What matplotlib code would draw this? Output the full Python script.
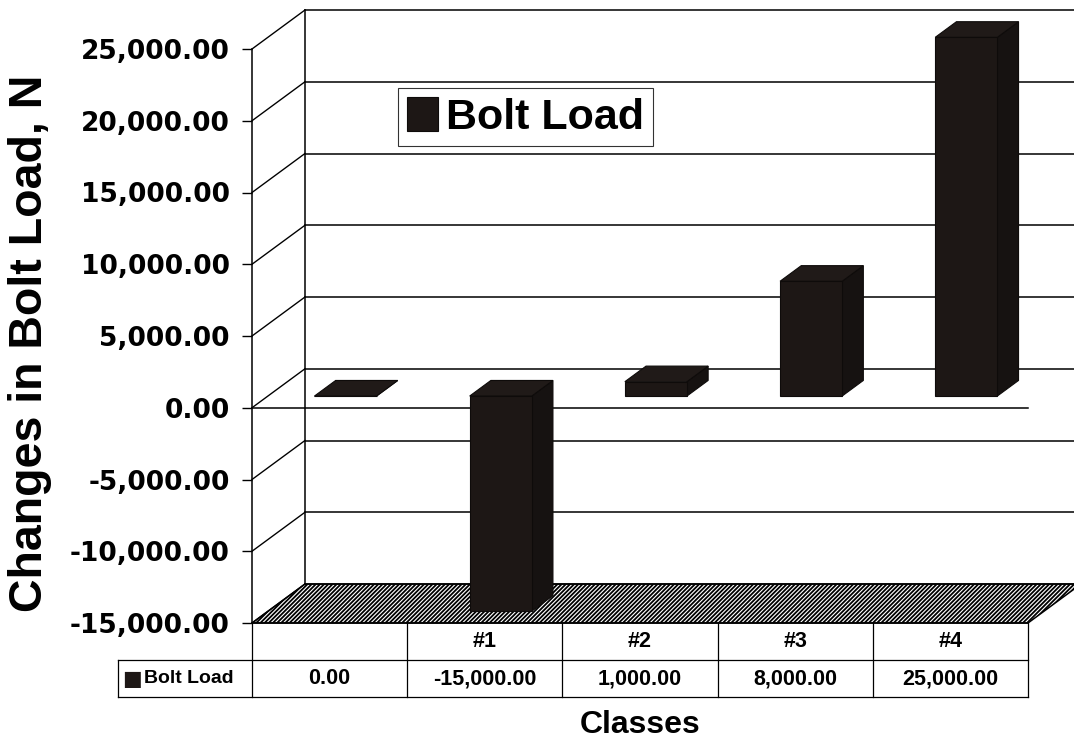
import matplotlib
matplotlib.use("Agg")
import matplotlib.pyplot as plt
import matplotlib.transforms as mtransforms
from matplotlib.patches import Polygon
from matplotlib.lines import Line2D

# ---------------- data ----------------
categories = ["", "#1", "#2", "#3", "#4"]
bolt_load = [0.0, -15000.0, 1000.0, 8000.0, 25000.0]
series_name = "Bolt Load"
y_ticks = [-15000, -10000, -5000, 0, 5000, 10000, 15000, 20000, 25000]
y_label = "Changes in Bolt Load, N"
x_label = "Classes"

# ---------------- styling ----------------
plt.rcParams["hatch.linewidth"] = 1.3
W, H = 1074, 744
fig = plt.figure(figsize=(W / 100, H / 100), dpi=100)
fig.patch.set_facecolor("white")

# front plane of the 3-D box
ax_left, ax_right, ax_top, ax_bot = 252, 1028, 49, 623
ax = fig.add_axes([ax_left / W, 1 - ax_bot / H, (ax_right - ax_left) / W, (ax_bot - ax_top) / H])
ax.set_xlim(0, len(categories))
ax.set_ylim(y_ticks[0], y_ticks[-1])
ax.patch.set_alpha(0)

# depth vector (pixels) converted to data units
depth_px = (53, 39)
ppx = (ax_right - ax_left) / len(categories)           # px per category
ppy = (ax_bot - ax_top) / (y_ticks[-1] - y_ticks[0])   # px per value unit
DX = depth_px[0] / ppx
DY = depth_px[1] / ppy

def P(x, y, f):
    """point at category-x, value-y, depth fraction f"""
    return (x + DX * f, y + DY * f)

LW = 1.1
ymin, ymax = y_ticks[0], y_ticks[-1]
ncat = len(categories)

# floor (hatched)
floor = Polygon([P(0, ymin, 0), P(ncat, ymin, 0), P(ncat, ymin, 1), P(0, ymin, 1)],
                closed=True, facecolor="white", edgecolor="black", hatch="////////",
                linewidth=LW, clip_on=False, zorder=1)
ax.add_patch(floor)

# back wall gridlines and side wall lines
for v in y_ticks:
    ax.add_line(Line2D(*zip(P(0, v, 1), P(ncat, v, 1)), color="black", lw=LW, clip_on=False, zorder=1))
    ax.add_line(Line2D(*zip(P(0, v, 0), P(0, v, 1)), color="black", lw=LW * 0.9, clip_on=False, zorder=1))
# back wall left edge
ax.add_line(Line2D(*zip(P(0, ymin, 1), P(0, ymax, 1)), color="black", lw=LW, clip_on=False, zorder=1))
# front zero line
ax.add_line(Line2D([0, ncat], [0, 0], color="black", lw=LW, clip_on=False, zorder=2))

# bars
front_c, top_c, side_c = "#1d1715", "#201a18", "#161211"
edge_c = "#0e0b0a"
f0, f1 = 0.3, 0.7
b0, b1 = 0.3, 0.7
bar_handle = None
for i, v in enumerate(bolt_load):
    y0, y1 = min(0, v), max(0, v)
    front = Polygon([P(i + b0, y0, f0), P(i + b1, y0, f0), P(i + b1, y1, f0), P(i + b0, y1, f0)],
                    closed=True, facecolor=front_c, edgecolor=edge_c, lw=0.8, clip_on=False, zorder=4)
    top = Polygon([P(i + b0, y1, f0), P(i + b1, y1, f0), P(i + b1, y1, f1), P(i + b0, y1, f1)],
                  closed=True, facecolor=top_c, edgecolor=edge_c, lw=0.8, clip_on=False, zorder=4)
    side = Polygon([P(i + b1, y0, f0), P(i + b1, y1, f0), P(i + b1, y1, f1), P(i + b1, y0, f1)],
                   closed=True, facecolor=side_c, edgecolor=edge_c, lw=0.8, clip_on=False, zorder=4)
    for p in (side, front, top):
        ax.add_patch(p)
    if i == 0:
        bar_handle = front

# axes decorations
for s in ("top", "right", "bottom"):
    ax.spines[s].set_visible(False)
ax.spines["left"].set_linewidth(LW)
ax.set_xticks([])
ax.set_yticks(y_ticks)
ax.set_yticklabels([f"{v:,.2f}" for v in y_ticks])
ax.tick_params(axis="y", length=7, width=1, pad=9.0, labelsize=19)
for t in ax.get_yticklabels():
    t.set_fontweight("bold")
    t.set_family("DejaVu Sans")

ax.set_ylabel(y_label, fontsize=33.5, fontweight="bold", family="Liberation Sans")
ax.yaxis.set_label_coords((30 - ax_left) / (ax_right - ax_left), (ax_bot - 343) / (ax_bot - ax_top))
ax.yaxis.label.set_va("center")
ax.set_xlabel(x_label, fontsize=23, fontweight="bold", family="Liberation Sans")
ax.xaxis.set_label_coords(0.5, (ax_bot - 725) / (ax_bot - ax_top))
ax.xaxis.label.set_va("center")

# legend
leg = ax.legend([bar_handle], [series_name], loc="upper left",
                bbox_to_anchor=(398 / W, 1 - 88 / H), bbox_transform=fig.transFigure,
                prop={"family": "Liberation Sans", "weight": "bold", "size": 31},
                frameon=True, fancybox=False, shadow=False, handlelength=0.72, handleheight=0.85,
                handletextpad=0.2, borderpad=0.2, borderaxespad=0)
leg.get_frame().set_edgecolor("black")
leg.get_frame().set_linewidth(0.8)
leg.set_zorder(6)

# data table
axh = ax_bot - ax_top
r1 = (ax_bot - 660) / axh
r2 = (ax_bot - 697) / axh
key_x = (118 - ax_left) / (ax_right - ax_left)
bt = mtransforms.blended_transform_factory(ax.transData, ax.transAxes)
tbl_lw = 0.9
for c in range(ncat + 1):
    ax.add_line(Line2D([c, c], [0, r2], transform=bt, color="black", lw=tbl_lw, clip_on=False))
ax.add_line(Line2D([0, ncat], [0, 0], transform=bt, color="black", lw=LW, clip_on=False))
ax.add_line(Line2D([key_x, 1], [r1, r1], transform=ax.transAxes, color="black", lw=tbl_lw, clip_on=False))
ax.add_line(Line2D([key_x, 1], [r2, r2], transform=ax.transAxes, color="black", lw=tbl_lw, clip_on=False))
ax.add_line(Line2D([key_x, key_x], [r1, r2], transform=ax.transAxes, color="black", lw=tbl_lw, clip_on=False))
tfont = dict(family=["Liberation Sans", "DejaVu Sans"], fontweight="bold", fontsize=15.5)
for i, (cat, v) in enumerate(zip(categories, bolt_load)):
    ax.text(i + 0.5, r1 / 2, cat, transform=bt, ha="center", va="center", **tfont)
    ax.text(i + 0.5, (r1 + r2) / 2, f"{v:,.2f}", transform=bt, ha="center", va="center", **tfont)
ax.text(key_x + 0.005, (r1 + r2) / 2, "\u25A0", transform=ax.transAxes, color="#1d1715",
        ha="left", va="center", family=["DejaVu Sans"], fontsize=15)
ax.text(key_x + 0.033, (r1 + r2) / 2, series_name, transform=ax.transAxes,
        ha="left", va="center", family=["Liberation Sans", "DejaVu Sans"], fontweight="bold", fontsize=14)

fig.savefig("out.png", dpi=100, facecolor="white")
